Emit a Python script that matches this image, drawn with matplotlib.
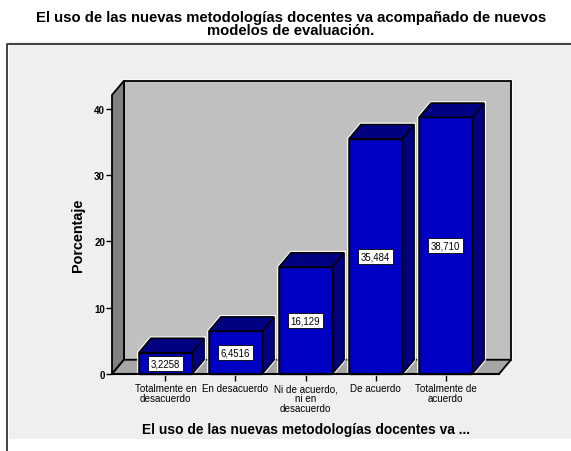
import matplotlib
matplotlib.use('Agg')
import matplotlib.pyplot as plt
import matplotlib.patheffects as pe
from matplotlib.patches import Polygon, Rectangle

categories = ['Totalmente en\ndesacuerdo', 'En desacuerdo', 'Ni de acuerdo,\nni en\ndesacuerdo',
              'De acuerdo', 'Totalmente de\nacuerdo']
values = [3.2258, 6.4516, 16.129, 35.484, 38.710]
value_labels = ['3,2258', '6,4516', '16,129', '35,484', '38,710']
yticks = [0, 10, 20, 30, 40]

W, H = 571, 452
plt.rcParams['font.family'] = ['Liberation Sans', 'DejaVu Sans']

fig = plt.figure(figsize=(W / 100, H / 100), dpi=100, facecolor='white')

# outer panel, in pixels from top left
def fx(x):
    return x / W

def fy(y):
    return 1 - y / H

fig.add_artist(Rectangle((fx(9), fy(440)), fx(562), 397 / H, transform=fig.transFigure,
                         fc='#efefef', ec='none', zorder=-2))
fig.add_artist(plt.Line2D([fx(7), fx(7), fx(571)], [fy(452), fy(45), fy(45)],
                          transform=fig.transFigure, color='#222222', lw=1.2, zorder=-1))

fig.text(fx(291), fy(24.5), 'El uso de las nuevas metodologías docentes va acompañado de nuevos\nmodelos de evaluación.',
         ha='center', va='center', fontsize=10.75, fontweight='bold', linespacing=0.9, color='black')

ax = fig.add_axes([fx(112), fy(375), (499 - 112) / W, (375 - 96) / H])
ax.set_xlim(-0.764, 4.764)
ax.set_ylim(0, 42.1)
ax.patch.set_visible(False)
for s in ax.spines.values():
    s.set_visible(False)

dx, dy = 0.171, 2.15
x0, x1 = ax.get_xlim()
y0, y1 = ax.get_ylim()
halo = [pe.withStroke(linewidth=3, foreground='white', alpha=0.8)]

# back wall, side wall, floor
ax.add_patch(Polygon([(x0 + dx, y0 + dy), (x1 + dx, y0 + dy), (x1 + dx, y1 + dy), (x0 + dx, y1 + dy)],
                     fc='#c0c0c0', ec='black', lw=1.3, clip_on=False, zorder=1, path_effects=halo))
ax.add_patch(Polygon([(x0, y0), (x0 + dx, y0 + dy), (x0 + dx, y1 + dy), (x0, y1)],
                     fc='#808080', ec='black', lw=1.3, clip_on=False, zorder=2))
ax.add_patch(Polygon([(x0, y0), (x1, y0), (x1 + dx, y0 + dy), (x0 + dx, y0 + dy)],
                     fc='#a6a6a6', ec='black', lw=1.3, clip_on=False, zorder=2))

width = 0.757
for i, v in enumerate(values):
    l, r = i - width / 2, i + width / 2
    z = 3 + i
    # silhouette first so the white edge only shows round the outside
    ax.add_patch(Polygon([(l, 0), (r, 0), (r + dx, dy), (r + dx, v + dy), (l + dx, v + dy), (l, v)],
                         fc='#000080', ec='black', lw=1, clip_on=False, zorder=z, path_effects=halo))
    ax.add_patch(Polygon([(r, 0), (r + dx, dy), (r + dx, v + dy), (r, v)],
                         fc='#000080', ec='black', lw=1, clip_on=False, zorder=z))
    ax.add_patch(Polygon([(l, v), (r, v), (r + dx, v + dy), (l + dx, v + dy)],
                         fc='#000080', ec='black', lw=1, clip_on=False, zorder=z))
    ax.bar(i, v, width=width, color='#0000c4', edgecolor='black', linewidth=1, zorder=z,
           clip_on=False)
    ax.text(i, v / 2, value_labels[i], ha='center', va='center', fontsize=6.9, zorder=20,
            bbox=dict(boxstyle='square,pad=0.28', fc='white', ec='black', lw=0.6))

ax.plot([x0, x1], [0, 0], color='black', lw=1.5, clip_on=False, zorder=15)

ax.set_xticks(range(len(categories)))
ax.set_xticklabels(categories, fontsize=7.1, linespacing=0.98)
ax.set_yticks(yticks)
ax.tick_params(axis='x', length=5, width=1, pad=1.5, color='black')
ax.tick_params(axis='y', length=4, width=1, pad=1, labelsize=7, color='black')
for t in ax.get_yticklabels():
    t.set_fontweight('bold')

fig.text(fx(78), fy(235), 'Porcentaje', rotation=90, ha='center', va='center',
         fontsize=10.4, fontweight='bold')
fig.text(fx(306), fy(430), 'El uso de las nuevas metodologías docentes va ...', ha='center', va='center',
         fontsize=9.9, fontweight='bold')

fig.savefig('out.png', dpi=100, facecolor='white')
